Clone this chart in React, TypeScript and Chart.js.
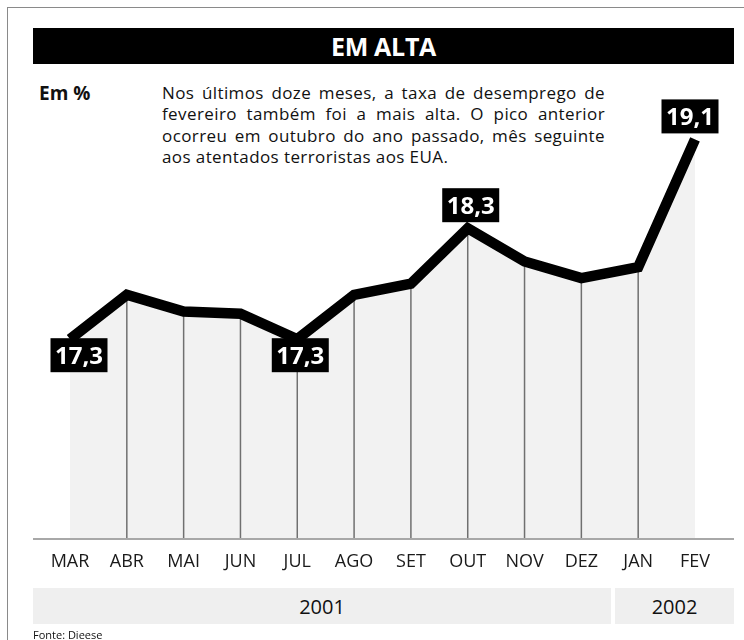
import React, { useEffect, useRef } from 'react';
import { Chart, registerables } from 'chart.js';

Chart.register(...registerables);

const months = ['MAR', 'ABR', 'MAI', 'JUN', 'JUL', 'AGO', 'SET', 'OUT', 'NOV', 'DEZ', 'JAN', 'FEV'];
const unemployment = [17.3, 17.7, 17.55, 17.53, 17.3, 17.7, 17.8, 18.3, 18.0, 17.85, 17.95, 19.1];
const highlighted = [0, 4, 7, 11];
const years = ['2001', '2002'];
const yMin = 15.5;
const yMax = 19.5;

const title = 'EM ALTA';
const unitLabel = 'Em %';
const noteLines = [
  'Nos últimos doze meses, a taxa de desemprego de',
  'fevereiro também foi a mais alta. O pico anterior',
  'ocorreu em outubro do ano passado, mês seguinte',
  'aos atentados terroristas aos EUA.',
];
const source = 'Fonte: Dieese';

const FONT = '"Open Sans", "DejaVu Sans", sans-serif';

const fmt = (v: number) => v.toFixed(1).replace('.', ',');

const dropLines = {
  id: 'dropLines',
  beforeDatasetDraw(chart: any) {
    const meta = chart.getDatasetMeta(0);
    const ctx = chart.ctx;
    const bottom = chart.chartArea.bottom;
    ctx.save();
    ctx.strokeStyle = '#707070';
    ctx.lineWidth = 1.5;
    meta.data.forEach((pt: any, i: number) => {
      if (i === 0 || i === meta.data.length - 1) return;
      ctx.beginPath();
      ctx.moveTo(pt.x, pt.y);
      ctx.lineTo(pt.x, bottom);
      ctx.stroke();
    });
    ctx.restore();
  },
};

const valueTags = {
  id: 'valueTags',
  afterDatasetsDraw(chart: any) {
    const meta = chart.getDatasetMeta(0);
    const ctx = chart.ctx;
    const last = meta.data.length - 1;
    const w = 57;
    const h = 34;
    ctx.save();
    ctx.font = `bold 24px ${FONT}`;
    ctx.textAlign = 'center';
    ctx.textBaseline = 'alphabetic';
    highlighted.forEach((i) => {
      const pt = meta.data[i];
      const v = unemployment[i];
      const prev = i > 0 ? unemployment[i - 1] : unemployment[i + 1];
      const next = i < last ? unemployment[i + 1] : unemployment[i - 1];
      const below = v <= (prev + next) / 2;
      const dx = i === 0 ? 9 : i === last ? -5 : 3;
      const cx = pt.x + dx;
      const top = below ? pt.y - 1 : pt.y - 6 - h;
      ctx.fillStyle = '#000';
      ctx.fillRect(cx - w / 2, top, w, h);
      ctx.fillStyle = '#fff';
      ctx.fillText(fmt(v), cx, top + h / 2 + 8.6);
    });
    ctx.restore();
  },
};

export default function App() {
  const ref = useRef<HTMLCanvasElement>(null);

  useEffect(() => {
    if (!ref.current) return;
    const chart = new Chart(ref.current, {
      type: 'line',
      data: {
        labels: months,
        datasets: [
          {
            data: unemployment,
            borderColor: '#000',
            borderWidth: 10.5,
            backgroundColor: '#f2f2f2',
            fill: 'start',
            tension: 0,
            pointRadius: 0,
            pointHoverRadius: 0,
            borderJoinStyle: 'miter',
            borderCapStyle: 'butt',
          } as any,
        ],
      },
      options: {
        animation: false,
        responsive: false,
        events: [],
        layout: { padding: { top: 95, left: 70, right: 49, bottom: 0 } },
        scales: {
          x: {
            type: 'category',
            offset: false,
            grid: { display: false, drawTicks: false },
            border: { display: false },
            ticks: {
              autoSkip: false,
              maxRotation: 0,
              padding: 12,
              color: '#1a1a1a',
              font: { family: FONT, size: 18 },
            },
            afterFit(scale: any) {
              scale.height = 101;
            },
          },
          y: { display: false, min: yMin, max: yMax },
        },
        plugins: { legend: { display: false }, tooltip: { enabled: false } },
      },
      plugins: [dropLines, valueTags],
    });
    return () => chart.destroy();
  }, []);

  const bandLeft = 33;
  const bandRight = 734;
  const gap = 4;
  const firstW = 578;

  return (
    <div
      style={{
        position: 'absolute',
        left: 0,
        top: 0,
        width: 744,
        height: 640,
        background: '#fff',
        overflow: 'hidden',
        fontFamily: FONT,
        color: '#111',
      }}
    >
      <div
        style={{
          position: 'absolute',
          left: 7,
          top: 7,
          width: 760,
          height: 660,
          borderLeft: '1.5px solid #8a8a8a',
          borderTop: '1.5px solid #8a8a8a',
        }}
      />
      <div
        style={{
          position: 'absolute',
          left: 33,
          top: 28,
          width: 701,
          height: 36,
          background: '#000',
          color: '#fff',
          fontWeight: 700,
          fontSize: 25,
          display: 'flex',
          alignItems: 'center',
          justifyContent: 'center',
          letterSpacing: -0.3,
        }}
      >
        {title}
      </div>
      <div style={{ position: 'absolute', left: 39, top: 80, fontWeight: 700, fontSize: 19, whiteSpace: 'nowrap' }}>
        {unitLabel}
      </div>
      {noteLines.map((line, i) => (
        <div
          key={i}
          style={{
            position: 'absolute',
            left: 162,
            top: 82 + i * 21.3,
            width: 443,
            fontSize: 17,
            letterSpacing: 0.4,
            lineHeight: '21.3px',
            whiteSpace: 'nowrap',
            textAlign: i < noteLines.length - 1 ? 'justify' : 'left',
            textAlignLast: i < noteLines.length - 1 ? 'justify' : 'left',
          } as any}
        >
          {line}
        </div>
      ))}
      <canvas ref={ref} width={744} height={640} style={{ position: 'absolute', left: 0, top: 0 }} />
      <div style={{ position: 'absolute', left: 33, top: 538, width: 701, height: 2, background: '#a8a8a8' }} />
      {years.map((y, i) => {
        const left = i === 0 ? bandLeft : bandLeft + firstW + gap;
        const width = i === 0 ? firstW : bandRight - left;
        return (
          <div
            key={y}
            style={{
              position: 'absolute',
              left,
              top: 588,
              width,
              height: 36,
              background: '#efefef',
              display: 'flex',
              alignItems: 'center',
              justifyContent: 'center',
              fontSize: 20,
            }}
          >
            {y}
          </div>
        );
      })}
      <div style={{ position: 'absolute', left: 33, top: 627, fontSize: 11, whiteSpace: 'nowrap' }}>{source}</div>
    </div>
  );
}
